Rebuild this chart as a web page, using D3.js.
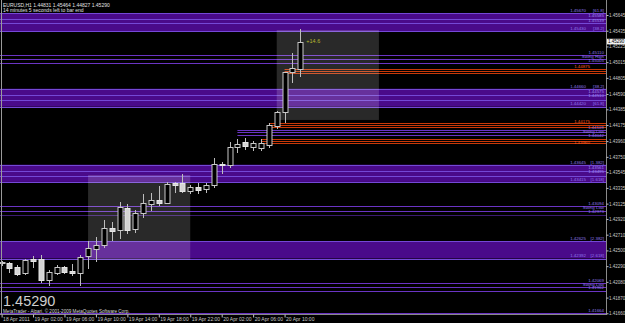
<!DOCTYPE html>
<html><head><meta charset="utf-8">
<script src="https://cdn.jsdelivr.net/npm/d3@7"></script>
<style>html,body{margin:0;padding:0;background:#000;overflow:hidden}</style>
</head><body>
<svg id="c" width="625" height="323"></svg>
<script>
// ---- data ----
const barTimes = d3.timeHour.range(new Date(2011,3,18,22), new Date(2011,3,20,13));
const openP  = [1.42332,1.42332,1.42279,1.42199,1.42386,1.42386,1.42105,1.42205,1.42285,1.42226,1.42199,1.42420,1.42520,1.42573,1.42800,1.42773,1.43067,1.42787,1.43000,1.43120,1.43174,1.43134,1.43401,1.43395,1.43288,1.43348,1.43321,1.43368,1.43655,1.43642,1.43882,1.43949,1.43882,1.43869,1.43909,1.44163,1.44346,1.44880,1.44928];
const highP  = [1.42359,1.42345,1.42305,1.42386,1.42426,1.42439,1.42239,1.42305,1.42292,1.42319,1.42439,1.42627,1.42680,1.42907,1.42880,1.43147,1.43120,1.43040,1.43254,1.43268,1.43361,1.43415,1.43408,1.43521,1.43375,1.43401,1.43401,1.43735,1.43682,1.43949,1.43989,1.44002,1.43962,1.43989,1.44199,1.44356,1.44888,1.45138,1.45464];
const lowP   = [1.42305,1.42212,1.42172,1.42185,1.42279,1.42078,1.42038,1.42185,1.42199,1.42178,1.42038,1.42266,1.42359,1.42546,1.42640,1.42666,1.42733,1.42746,1.42947,1.43040,1.43107,1.43127,1.43281,1.43281,1.43268,1.43268,1.43281,1.43348,1.43539,1.43615,1.43815,1.43855,1.43842,1.43842,1.43886,1.44132,1.44220,1.44754,1.44827];
const closeP = [1.42345,1.42265,1.42185,1.42372,1.42359,1.42105,1.42212,1.42279,1.42212,1.42192,1.42413,1.42533,1.42573,1.42800,1.42760,1.43080,1.42773,1.43000,1.43134,1.43174,1.43134,1.43388,1.43374,1.43294,1.43341,1.43308,1.43374,1.43655,1.43635,1.43882,1.43922,1.43896,1.43936,1.43936,1.44176,1.44346,1.44880,1.44933,1.45290];

const priceTicks = [1.41660,1.41870,1.42080,1.42290,1.42500,1.42710,1.42920,1.43125,1.43335,1.43545,1.43750,1.43960,1.44175,1.44385,1.44590,1.44805,1.45015,1.45225,1.45435,1.45645];
const timeTickBars = [0,4,8,12,16,20,24,28,32,36];
const timeTickLabels = ["18 Apr 2011","19 Apr 02:00","19 Apr 06:00","19 Apr 10:00","19 Apr 14:00","19 Apr 18:00","19 Apr 22:00","20 Apr 02:00","20 Apr 06:00","20 Apr 10:00"];

// Fibonacci zones
const zoneHigh = [1.45670,1.44660,1.43645,1.42625];
const zoneLow  = [1.45430,1.44420,1.43415,1.42392];
const zoneHighFib = ["[61.8]","[38.2]","[1.382]","[2.382]"];
const zoneLowFib  = ["[38.2]","[61.8]","[1.618]","[2.618]"];
const zoneInner = [[1.45585,1.45539],[1.44575,1.44510],[1.43561,1.43495],[]];

// swing levels (purple)
const swingLevels = [[1.45110,1.45060,1.45005],[1.44109,1.44076,1.44042],[1.43094,1.43027,1.42973],[1.42069,1.42016,1.41962]];
const swingNames = ["Swing High","Swing Low","Swing Low","Swing Low"];
const swingStartBar = [null,30,null,null];
const bottomLevel = 1.41664;
// pivot levels (orange)
const orangeLevels = [[1.44920,1.44895,1.44870],[1.44196,1.44172,1.44149],[1.43995,1.43962,1.43935]];
const orangeStartBar = [36,34,33];
const orangeLabels = ["1.44875","1.44175","1.43960"];

// session boxes [startBar, endBar, high, low]
const sessStart = [11,35];
const sessEnd   = [24,48];
const sessHigh  = [1.43508,1.45445];
const sessLow   = [1.42372,1.44243];

const header1 = "EURUSD,H1  1.44831 1.45464 1.44827 1.45290";
const header2 = "14 minutes 5 seconds left to bar end";
const lastPrice = 1.45290;
const pipsText = "+14.6";
const copyright = "MetaTrader - Alpari, © 2001-2009 MetaQuotes Software Corp.";

// ---- drawing ----
const svg = d3.select("#c");
const W = 625, H = 323, plotR = 606, plotB = 314;
const FONT = "Liberation Sans, Arial, sans-serif";
svg.append("rect").attr("width",W).attr("height",H).attr("fill","#000");

const x = d3.scaleLinear().domain([0,38]).range([1.6,300.3]);
const y = d3.scaleLinear().domain([1.41660,1.45645]).range([313.3,15.0]);
const fmt = d3.format(".5f");
const py = v => Math.round(y(v)) + 0.5;

const BAND = "#4a0a8a", LINE = "#6a34c4", LTXT = "#8f78e8", ORANGE = "#c83808";

const g = svg.append("g");
// zones
zoneHigh.forEach((hv,i)=>{
  const lv = zoneLow[i];
  g.append("rect").attr("x",0).attr("width",plotR).attr("y",y(hv)).attr("height",y(lv)-y(hv)).attr("fill",BAND);
  [hv,lv].concat(zoneInner[i]).forEach(v=>{
    g.append("line").attr("x1",0).attr("x2",plotR).attr("y1",py(v)).attr("y2",py(v)).attr("stroke","#7448d6").attr("stroke-width",1);
  });
});
// swing lines
swingLevels.forEach((arr,i)=>{
  const x0 = swingStartBar[i]==null ? 0 : x(swingStartBar[i]);
  arr.forEach((v,j)=>{
    g.append("line").attr("x1",x0).attr("x2",plotR).attr("y1",py(v)).attr("y2",py(v))
      .attr("stroke", j===2 && i===2 ? "#3c1a70" : LINE).attr("stroke-width",1);
  });
});
g.append("line").attr("x1",0).attr("x2",plotR).attr("y1",py(bottomLevel)).attr("y2",py(bottomLevel)).attr("stroke",LINE);
// orange lines
orangeLevels.forEach((arr,i)=>{
  arr.forEach(v=>{
    g.append("line").attr("x1",x(orangeStartBar[i])).attr("x2",plotR).attr("y1",py(v)).attr("y2",py(v))
      .attr("stroke",ORANGE).attr("stroke-width",1);
  });
});
// session boxes
sessStart.forEach((s,i)=>{
  g.append("rect").attr("x",x(s)).attr("width",x(sessEnd[i])-x(s))
    .attr("y",y(sessHigh[i])).attr("height",y(sessLow[i])-y(sessHigh[i]))
    .attr("fill","#ffffff").attr("opacity",0.16);
});

// candles
const cg = svg.append("g");
barTimes.forEach((t,i)=>{
  const o=openP[i], h=highP[i], l=lowP[i], c=closeP[i];
  const cx = Math.round(x(i)) + 0.5;
  const bull = c >= o;
  cg.append("line").attr("x1",cx).attr("x2",cx).attr("y1",Math.round(y(h))).attr("y2",Math.round(y(l))+1)
    .attr("stroke","#bdbdbd").attr("stroke-width",1);
  const top = Math.round(y(Math.max(o,c))), bot = Math.round(y(Math.min(o,c)));
  cg.append("rect").attr("x",cx-2.5).attr("width",5).attr("y",top+0.5).attr("height",Math.max(1,bot-top))
    .attr("fill", bull ? "#000" : "#d4d4d4").attr("stroke", bull ? "#c8c8c8" : "#e6e6e6").attr("stroke-width",1);
});

// level labels
const LF = 4.4;
const lg = svg.append("g").attr("font-family",FONT).attr("font-size",LF);
zoneHigh.forEach((hv,i)=>{
  const lv = zoneLow[i];
  lg.append("text").attr("x",586).attr("y",y(hv)-1.2).attr("text-anchor","end").attr("fill",LTXT).text(fmt(hv));
  lg.append("text").attr("x",604).attr("y",y(hv)-1.2).attr("text-anchor","end").attr("fill",LTXT).text(zoneHighFib[i]);
  lg.append("text").attr("x",586).attr("y",y(lv)-1.2).attr("text-anchor","end").attr("fill",LTXT).text(fmt(lv));
  lg.append("text").attr("x",604).attr("y",y(lv)-1.2).attr("text-anchor","end").attr("fill",LTXT).text(zoneLowFib[i]);
  zoneInner[i].forEach((v,j)=>{
    lg.append("text").attr("x",604).attr("y",y(hv)+4.2+j*4.2).attr("text-anchor","end").attr("fill","#a08cf0").text(fmt(v));
  });
});
swingLevels.forEach((arr,i)=>{
  const base = y(arr[0]) - 1;
  lg.append("text").attr("x",604).attr("y",base).attr("text-anchor","end").attr("fill",LTXT).text(fmt(arr[0]));
  lg.append("text").attr("x",604).attr("y",base+3.9).attr("text-anchor","end").attr("fill",LTXT).text(swingNames[i]);
  lg.append("text").attr("x",604).attr("y",base+7.8).attr("text-anchor","end").attr("fill",LTXT).text(fmt(arr[2]));
});
lg.append("text").attr("x",604).attr("y",y(bottomLevel)-1).attr("text-anchor","end").attr("fill",LTXT).text(fmt(bottomLevel));
orangeLevels.forEach((arr,i)=>{
  const yy = i===2 ? y(arr[1])+2.6 : y(arr[0])-0.8;
  lg.append("text").attr("x",590).attr("y",yy).attr("text-anchor","end").attr("fill","#ff5a1e").text(orangeLabels[i]);
});
lg.append("text").attr("x",x(38)+6).attr("y",y(lastPrice)+1.5).attr("fill","#b8b830").attr("font-size",5.5).text(pipsText);

// axes frame
svg.append("line").attr("x1",0).attr("x2",plotR).attr("y1",plotB+0.5).attr("y2",plotB+0.5).attr("stroke","#8a8a8a");
svg.append("line").attr("x1",plotR+0.5).attr("x2",plotR+0.5).attr("y1",0).attr("y2",plotB+1).attr("stroke","#8a8a8a");
svg.append("line").attr("x1",1.5).attr("x2",1.5).attr("y1",0).attr("y2",plotB).attr("stroke","#9a9a9a");

const yAxis = d3.axisRight(y).tickValues(priceTicks).tickFormat(fmt).tickSize(2).tickPadding(0.5);
const ya = svg.append("g").attr("transform",`translate(${plotR+0.5},0)`).call(yAxis);
ya.select(".domain").remove();
ya.selectAll("line").attr("stroke","#c0c0c0");
ya.selectAll("text").attr("fill","#c8c8c8").attr("font-size",4.5).attr("font-family",FONT);

const xAxis = d3.axisBottom(x).tickValues(timeTickBars).tickFormat((d,i)=>timeTickLabels[i]).tickSize(3).tickPadding(0);
const xa = svg.append("g").attr("transform",`translate(0,${plotB+0.5})`).call(xAxis);
xa.select(".domain").remove();
xa.selectAll("line").attr("stroke","#c0c0c0");
xa.selectAll("text").attr("fill","#c8c8c8").attr("font-size",5).attr("font-family",FONT)
  .attr("text-anchor","start").attr("dx","1");

// price box
const by = y(lastPrice);
svg.append("rect").attr("x",plotR+1).attr("y",by-2.8).attr("width",W-plotR-1).attr("height",5.6).attr("fill","#f0f0f0");
svg.append("text").attr("x",plotR+2).attr("y",by+1.7).attr("font-family",FONT).attr("font-size",4.5).attr("fill","#000").text(fmt(lastPrice));

// header
svg.append("text").attr("x",3).attr("y",6.5).attr("font-family",FONT).attr("font-size",5).attr("fill","#e0e0e0").text(header1);
svg.append("text").attr("x",3).attr("y",11.5).attr("font-family",FONT).attr("font-size",5).attr("fill","#e0e0e0").text(header2);

// big price & copyright
svg.append("text").attr("x",3).attr("y",306.2).attr("font-family",FONT).attr("font-size",14.5).attr("fill","#cfcfcf").text(fmt(lastPrice));
svg.append("text").attr("x",3).attr("y",313.2).attr("font-family",FONT).attr("font-size",4.6).attr("fill","#d8d8d8").text(copyright);
</script>
</body></html>
